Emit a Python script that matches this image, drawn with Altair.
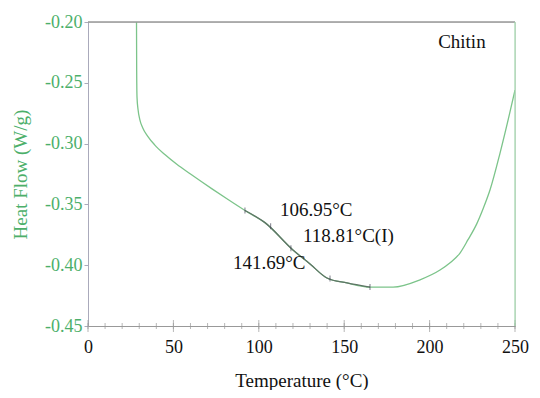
import altair as alt
import pandas as pd

temp = [28.4, 28.5, 28.7, 29.3, 30.3, 32.0, 35.0, 39.0, 45.0, 52.0, 60.0, 72.4, 82.0, 91.9,
        103.6, 120.0, 130.0, 139.9, 151.6, 165.1, 178.6, 194.4, 206.1, 212.0, 217.8, 222.5,
        227.6, 231.5, 235.4, 241.2, 246.9, 250.0]
heat = [-0.200, -0.240, -0.262, -0.272, -0.280, -0.287, -0.294, -0.301, -0.309, -0.317, -0.325,
        -0.337, -0.346, -0.355, -0.365, -0.3875, -0.399, -0.4105, -0.4146, -0.418, -0.418,
        -0.412, -0.404, -0.398, -0.390, -0.379, -0.366, -0.353, -0.338, -0.308, -0.275, -0.256]

mark_t = [91.9, 106.95, 118.81, 141.69, 165.1]
mark_v = [-0.355, -0.368, -0.386, -0.411, -0.418]

lab_text = ["106.95°C", "118.81°C(I)", "141.69°C", "Chitin"]
lab_t = [112.4, 125.9, 84.9, 205.0]
lab_v = [-0.3546, -0.376, -0.398, -0.2164]

minor_t = list(range(0, 251, 10))
major_t = [0, 50, 100, 150, 200, 250]
y_ticks = [-0.45, -0.40, -0.35, -0.30, -0.25, -0.20]

df = pd.DataFrame({"T": temp, "H": heat})
dm = pd.DataFrame({"T": mark_t, "H": mark_v})
dl = pd.DataFrame({"T": lab_t, "H": lab_v, "label": lab_text})
dminor = pd.DataFrame({"T": minor_t, "H": [-0.45] * len(minor_t)})
dmajor = pd.DataFrame({"T": major_t, "H": [-0.45] * len(major_t)})

FONT = "Liberation Serif"
GREEN = "#4caf6a"

xs = alt.Scale(domain=[0, 250], nice=False, zero=False)
ys = alt.Scale(domain=[-0.45, -0.20], nice=False, zero=False)

xax = alt.Axis(values=major_t, title="Temperature (°C)", grid=False,
               labelFont=FONT, labelFontSize=18, labelColor="#111", titleFont=FONT,
               titleFontSize=19, titleFontWeight="normal", titleColor="#111", titlePadding=15,
               ticks=False, domainColor="#999", labelPadding=12, labelFlush=False)
yax = alt.Axis(values=y_ticks, labelExpr="replace(format(datum.value, '.2f'), '\u2212', '-')",
               title="Heat Flow (W/g)", grid=False, labelFont=FONT, labelFontSize=18,
               labelColor=GREEN, titleFont=FONT, titleFontSize=19, titleFontWeight="normal",
               titleColor=GREEN, titlePadding=14, tickSize=4, domainColor="#aab",
               tickColor="#aab", labelPadding=2)

base = alt.Chart(df)
line = base.mark_line(color="#7cc48a", strokeWidth=1.3, interpolate="monotone", clip=True).encode(
    x=alt.X("T:Q", scale=xs, axis=xax),
    y=alt.Y("H:Q", scale=ys, axis=yax),
)
dark = base.transform_filter("datum.T >= 91.9 && datum.T <= 165.1").mark_line(
    color="#5f7466", strokeWidth=1.3, interpolate="monotone").encode(
    x=alt.X("T:Q", scale=xs), y=alt.Y("H:Q", scale=ys))

ticks = alt.Chart(dm).mark_tick(color="#445", thickness=1, size=6, orient="vertical").encode(
    x=alt.X("T:Q", scale=xs), y=alt.Y("H:Q", scale=ys))

minor = alt.Chart(dminor).mark_tick(color="#999", thickness=1, size=6, orient="vertical").encode(
    x=alt.X("T:Q", scale=xs), y=alt.Y("H:Q", scale=ys))
major = alt.Chart(dmajor).mark_tick(color="#999", thickness=1, size=12, orient="vertical").encode(
    x=alt.X("T:Q", scale=xs), y=alt.Y("H:Q", scale=ys))

labels = alt.Chart(dl).mark_text(font=FONT, fontSize=19, color="#111", align="left",
                                 baseline="middle").encode(
    x=alt.X("T:Q", scale=xs), y=alt.Y("H:Q", scale=ys), text="label:N")

top = alt.Chart(pd.DataFrame({"T": [0], "T2": [250], "H": [-0.20]})).mark_rule(
    color="#999", strokeWidth=1.5).encode(x=alt.X("T:Q", scale=xs), x2="T2:Q",
                                          y=alt.Y("H:Q", scale=ys))
right = alt.Chart(pd.DataFrame({"T": [250], "H": [-0.45], "H2": [-0.20]})).mark_rule(
    color="#9fd6aa", strokeWidth=1.2).encode(x=alt.X("T:Q", scale=xs),
                                             y=alt.Y("H:Q", scale=ys), y2="H2:Q")

chart = alt.layer(minor, major, line, dark, ticks, top, right, labels).properties(
    width=427, height=304,
    autosize=alt.AutoSizeParams(type="none"),
    padding={"left": 80, "top": 14, "right": 17, "bottom": 64},
).configure_view(stroke=None).configure(background="white")

chart.save("out.html", embed_options={"renderer": "svg", "actions": False})
